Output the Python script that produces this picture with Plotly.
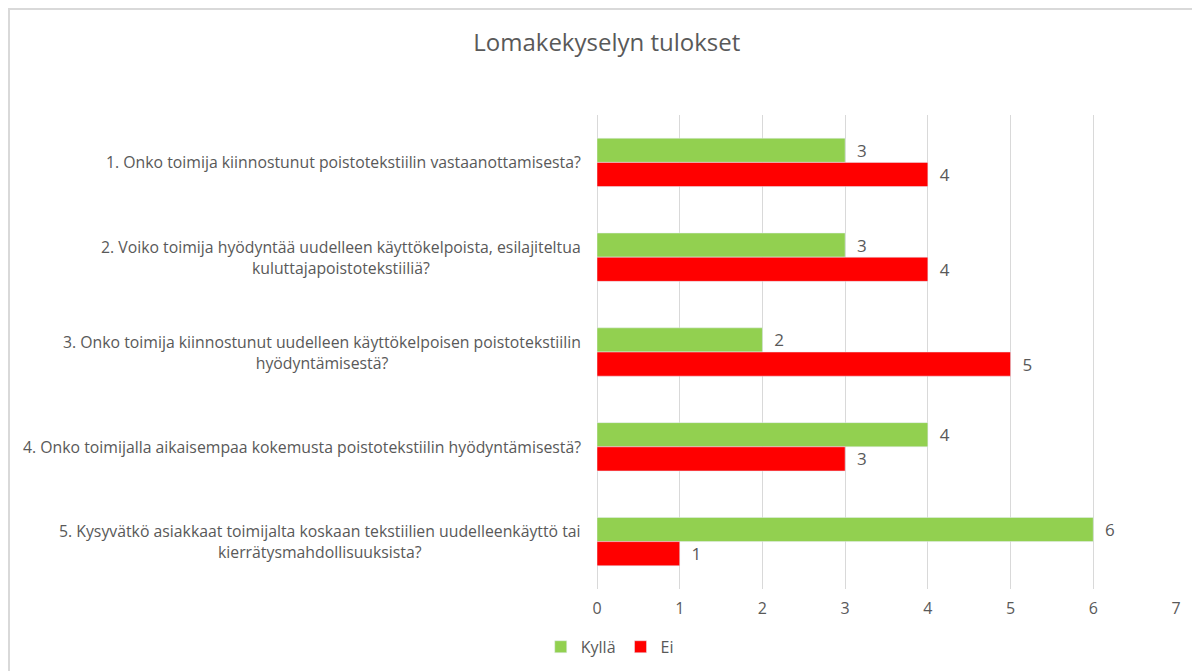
import plotly.graph_objects as go

categories = [
    "1. Onko toimija kiinnostunut poistotekstiilin vastaanottamisesta?",
    "2. Voiko toimija hyödyntää uudelleen käyttökelpoista, esilajiteltua<br>kuluttajapoistotekstiiliä?",
    "3. Onko toimija kiinnostunut uudelleen käyttökelpoisen poistotekstiilin<br>hyödyntämisestä?",
    "4. Onko toimijalla aikaisempaa kokemusta poistotekstiilin hyödyntämisestä?",
    "5. Kysyvätkö asiakkaat toimijalta koskaan tekstiilien uudelleenkäyttö tai<br>kierrätysmahdollisuuksista?",
]
kylla = [3, 3, 2, 4, 6]
ei = [4, 4, 5, 3, 1]
x_ticks = [0, 1, 2, 3, 4, 5, 6, 7]

FONT = "Open Sans"
GREY = "#595959"

fig = go.Figure()
fig.add_trace(go.Bar(
    y=categories, x=kylla, name="Kyllä", orientation="h",
    marker=dict(color="#92D050"),
    text=kylla, texttemplate="  %{x}", textposition="outside", cliponaxis=False,
    constraintext="none",
    textfont=dict(color=GREY, size=17, family=FONT),
))
fig.add_trace(go.Bar(
    y=categories, x=ei, name="Ei", orientation="h",
    marker=dict(color="#FF0000"),
    text=ei, texttemplate="  %{x}", textposition="outside", cliponaxis=False,
    constraintext="none",
    textfont=dict(color=GREY, size=17, family=FONT),
))

annotations = []
for c in categories:
    annotations.append(dict(
        x=-0.024, xref="paper", y=c, yref="y",
        text=c, showarrow=False, xanchor="right", yanchor="middle",
        align="center", font=dict(size=15.8, color=GREY, family=FONT),
    ))

fig.update_layout(
    width=1200, height=671,
    paper_bgcolor="white", plot_bgcolor="white",
    margin=dict(l=589, r=32, t=107, b=90),
    barmode="group", bargap=0.49, bargroupgap=0,
    title=dict(text="Lomakekyselyn tulokset", x=0.499, xanchor="center",
               y=0.948, yanchor="middle",
               font=dict(size=24, color=GREY, family=FONT)),
    xaxis=dict(range=[0, 7], tickvals=x_ticks, showgrid=True,
               gridcolor="#D9D9D9", gridwidth=1, zeroline=True,
               zerolinecolor="#D9D9D9", zerolinewidth=1,
               tickfont=dict(size=16, color=GREY, family=FONT),
               ticks="", showline=False, fixedrange=True,
               ticklabelstandoff=8),
    yaxis=dict(autorange="reversed", showticklabels=False, showgrid=False,
               zeroline=False, fixedrange=True),
    legend=dict(orientation="h", x=0.022, xanchor="center", y=-0.122,
                yanchor="middle", font=dict(size=16, color=GREY, family=FONT),
                traceorder="normal", itemwidth=30),
    annotations=annotations,
    shapes=[dict(type="rect", xref="paper", yref="paper",
                 x0=(1 - 589) / 579, x1=(1210 - 589) / 579,
                 y0=(581 - 690) / 474, y1=(581 - 1) / 474,
                 line=dict(color="#D9D9D9", width=2), fillcolor="rgba(0,0,0,0)",
                 layer="below")],
)

fig.write_html("out.html")
